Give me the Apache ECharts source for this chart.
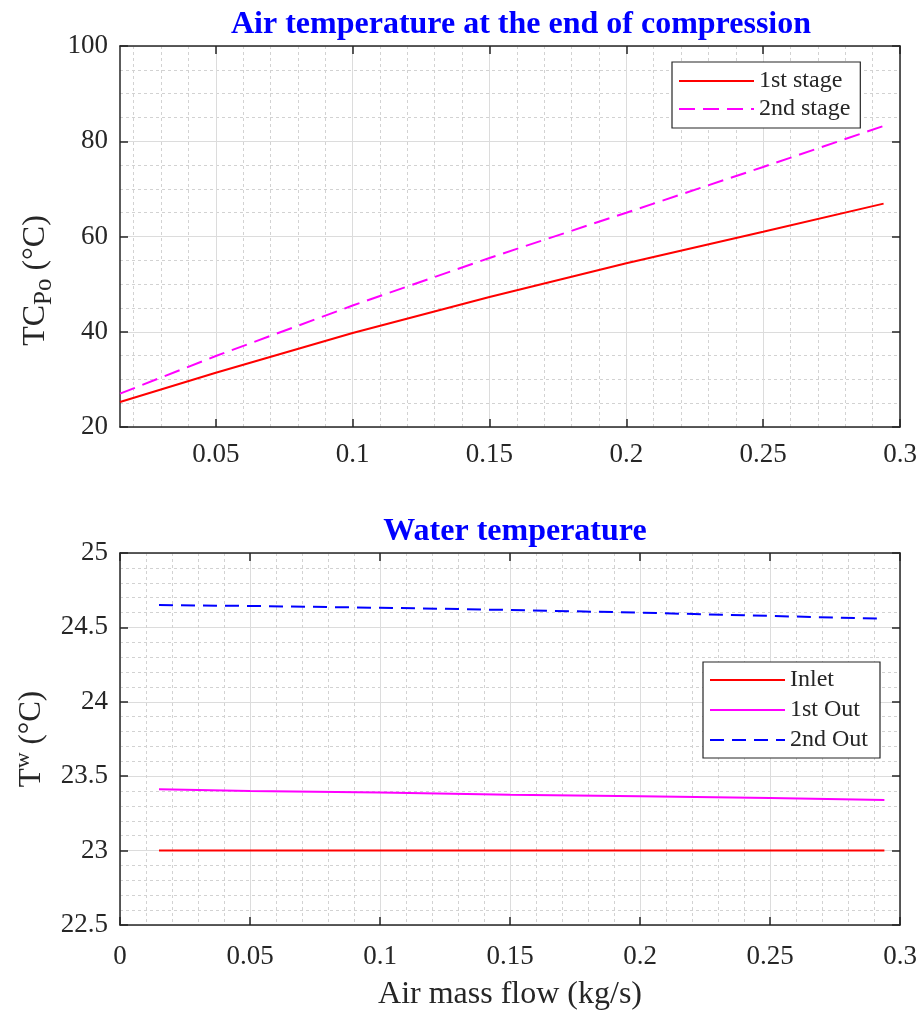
<!DOCTYPE html>
<html>
<head>
<meta charset="utf-8">
<script src="https://cdn.jsdelivr.net/npm/echarts@6/dist/echarts.min.js"></script>
<style>
html,body{margin:0;padding:0;background:#fff;}
#c{width:922px;height:1012px;}
</style>
</head>
<body>
<div id="c"></div>
<script>
// ---- data ----
var xTop = [0.015, 0.05, 0.1, 0.15, 0.2, 0.25, 0.294];
var stage1 = [25.25, 31.4, 39.75, 47.3, 54.4, 61.0, 66.9];
var stage2 = [27.0, 34.9, 45.5, 55.5, 65.0, 74.6, 83.2];

var xBot = [0.015, 0.05, 0.1, 0.15, 0.2, 0.25, 0.294];
var inlet = [23.0, 23.0, 23.0, 23.0, 23.0, 23.0, 23.0];
var out1 = [23.412, 23.40, 23.39, 23.376, 23.366, 23.353, 23.340];
var out2 = [24.65, 24.644, 24.632, 24.617, 24.599, 24.577, 24.558];

// tick values of the top x axis (range starts at 0.015)
var xTicksTop = [0.05, 0.1, 0.15, 0.2, 0.25, 0.3];
var xMinorTop = [0.02, 0.03, 0.04, 0.06, 0.07, 0.08, 0.09, 0.11, 0.12, 0.13, 0.14,
                 0.16, 0.17, 0.18, 0.19, 0.21, 0.22, 0.23, 0.24, 0.26, 0.27, 0.28, 0.29];

var topTitle = 'Air temperature at the end of compression';
var botTitle = 'Water temperature';
var xName = 'Air mass flow (kg/s)';

function pairs(xs, ys){ return xs.map(function(x,i){return [x, ys[i]];}); }

var FONT = '"Liberation Serif", "Times New Roman", serif';
var AX = '#262626';
var MAJ = '#dcdcdc';
var MIN = '#d2d2d2';
var tickFont = {fontFamily: FONT, fontSize: 27, color: AX};
var fmt = function(v){return String(+(+v).toFixed(3));};

function axisBase(){
  return {
    axisLine:{show:true, onZero:false, lineStyle:{color:AX, width:1.5}},
    axisTick:{show:true, inside:true, length:8, lineStyle:{color:AX, width:1.5}}
  };
}

var xAxes = [
  // 0: top plot main x
  Object.assign(axisBase(), {
    type:'value', gridIndex:0, min:0.015, max:0.3, position:'bottom',
    axisTick:{show:true, inside:true, length:8, lineStyle:{color:AX, width:1.5}, customValues: xTicksTop},
    axisLabel: Object.assign({margin:14, formatter: fmt, customValues: xTicksTop}, tickFont),
    splitLine:{show:true, lineStyle:{color:MAJ, width:1}}
  }),
  // 1: top plot frame (top side)
  Object.assign(axisBase(), {
    type:'value', gridIndex:0, min:0.015, max:0.3, position:'top',
    axisTick:{show:true, inside:true, length:8, lineStyle:{color:AX, width:1.5}, customValues: xTicksTop},
    axisLabel:{show:false}, splitLine:{show:false}
  }),
  // 2: top plot minor grid
  {
    type:'value', gridIndex:0, min:0.015, max:0.3, position:'bottom',
    axisLine:{show:false}, axisLabel:{show:false},
    axisTick:{show:false, customValues: xMinorTop},
    splitLine:{show:true, lineStyle:{color:MIN, width:1, type:[3,3]}}
  },
  // 3: bottom plot main x
  Object.assign(axisBase(), {
    type:'value', gridIndex:1, min:0, max:0.3, interval:0.05, position:'bottom',
    axisLabel: Object.assign({margin:18, formatter: fmt}, tickFont),
    splitLine:{show:true, lineStyle:{color:MAJ, width:1}},
    minorTick:{show:false, splitNumber:5},
    minorSplitLine:{show:true, lineStyle:{color:MIN, width:1, type:[3,3]}},
    name: xName, nameLocation:'middle', nameGap:54,
    nameTextStyle:{fontFamily: FONT, fontSize: 32, color: AX}
  }),
  // 4: bottom plot frame
  Object.assign(axisBase(), {
    type:'value', gridIndex:1, min:0, max:0.3, interval:0.05, position:'top',
    axisLabel:{show:false}, splitLine:{show:false}
  })
];

function mainY(idx, min, max, interval, minorN, name, rich, gap, pad){
  return Object.assign(axisBase(), {
    type:'value', gridIndex: idx, min:min, max:max, interval:interval, position:'left',
    axisLabel: Object.assign({margin:12}, tickFont),
    splitLine:{show:true, lineStyle:{color:MAJ, width:1}},
    minorTick:{show:false, splitNumber:minorN},
    minorSplitLine:{show:true, lineStyle:{color:MIN, width:1, type:[3,3]}},
    name: name, nameLocation:'middle', nameGap: gap, nameRotate: 90,
    nameTextStyle:{fontFamily: FONT, fontSize: 31, color: AX, rich: rich, padding: pad}
  });
}
function frameY(idx, min, max, interval){
  return Object.assign(axisBase(), {
    type:'value', gridIndex: idx, min:min, max:max, interval:interval, position:'right',
    axisLabel:{show:false}, splitLine:{show:false}
  });
}

var richTop = {
  m:{fontFamily:FONT, fontSize:32, color:AX, lineHeight:42},
  s:{fontFamily:FONT, fontSize:25, color:AX, lineHeight:14, verticalAlign:'bottom'}
};
var richBot = {
  m:{fontFamily:FONT, fontSize:31, color:AX, lineHeight:40},
  p:{fontFamily:FONT, fontSize:22, color:AX, lineHeight:14, verticalAlign:'top'}
};

var legendCommon = {
  orient:'vertical', itemWidth:75, itemHeight:14,
  backgroundColor:'#fff', borderColor:AX, borderWidth:1.2,
  itemStyle:{opacity:0},
  textStyle:{fontFamily:FONT, fontSize:24, color:AX}
};

var chart = echarts.init(document.getElementById('c'), null, {renderer:'canvas'});
var option = {
  animation:false,
  backgroundColor:'#fff',
  title:[
    {text: topTitle, left: 516, textAlign:'center', top: 4,
     textStyle:{fontFamily:FONT, fontSize:32, fontWeight:'bold', color:'#0000ff'}},
    {text: botTitle, left: 510, textAlign:'center', top: 511,
     textStyle:{fontFamily:FONT, fontSize:32, fontWeight:'bold', color:'#0000ff'}}
  ],
  grid:[
    {left:120, top:46, width:780, height:381, show:false},
    {left:120, top:553, width:780, height:372, show:false}
  ],
  xAxis: xAxes,
  yAxis:[
    mainY(0, 20, 100, 20, 4, '{m|TC}{s|Po}{m| (°C)}', richTop, 62, [0, 88, 0, 0]),
    frameY(0, 20, 100, 20),
    mainY(1, 22.5, 25, 0.5, 5, '{m|T}{p|w}{m| (°C)}', richBot, 68, 0),
    frameY(1, 22.5, 25, 0.5)
  ],
  legend:[
    Object.assign({data:['1st stage','2nd stage'], left:672, top:62, itemGap:4, padding:[7,10,7,6]}, legendCommon),
    Object.assign({data:['Inlet','1st Out','2nd Out'], left:703, top:662, itemGap:6, padding:[6,12,6,6]}, legendCommon)
  ],
  series:[
    {name:'1st stage', type:'line', xAxisIndex:0, yAxisIndex:0, data:pairs(xTop, stage1),
     symbol:'none', lineStyle:{color:'#ff0000', width:2}, itemStyle:{color:'#ff0000'}},
    {name:'2nd stage', type:'line', xAxisIndex:0, yAxisIndex:0, data:pairs(xTop, stage2),
     symbol:'none', lineStyle:{color:'#ff00ff', width:2, type:[16,8]}, itemStyle:{color:'#ff00ff'}},
    {name:'Inlet', type:'line', xAxisIndex:3, yAxisIndex:2, data:pairs(xBot, inlet),
     symbol:'none', lineStyle:{color:'#ff0000', width:2}, itemStyle:{color:'#ff0000'}},
    {name:'1st Out', type:'line', xAxisIndex:3, yAxisIndex:2, data:pairs(xBot, out1),
     symbol:'none', lineStyle:{color:'#ff00ff', width:2}, itemStyle:{color:'#ff00ff'}},
    {name:'2nd Out', type:'line', xAxisIndex:3, yAxisIndex:2, data:pairs(xBot, out2),
     symbol:'none', lineStyle:{color:'#0000ff', width:2, type:[14,8]}, itemStyle:{color:'#0000ff'}}
  ]
};
chart.setOption(option);
</script>
</body>
</html>
